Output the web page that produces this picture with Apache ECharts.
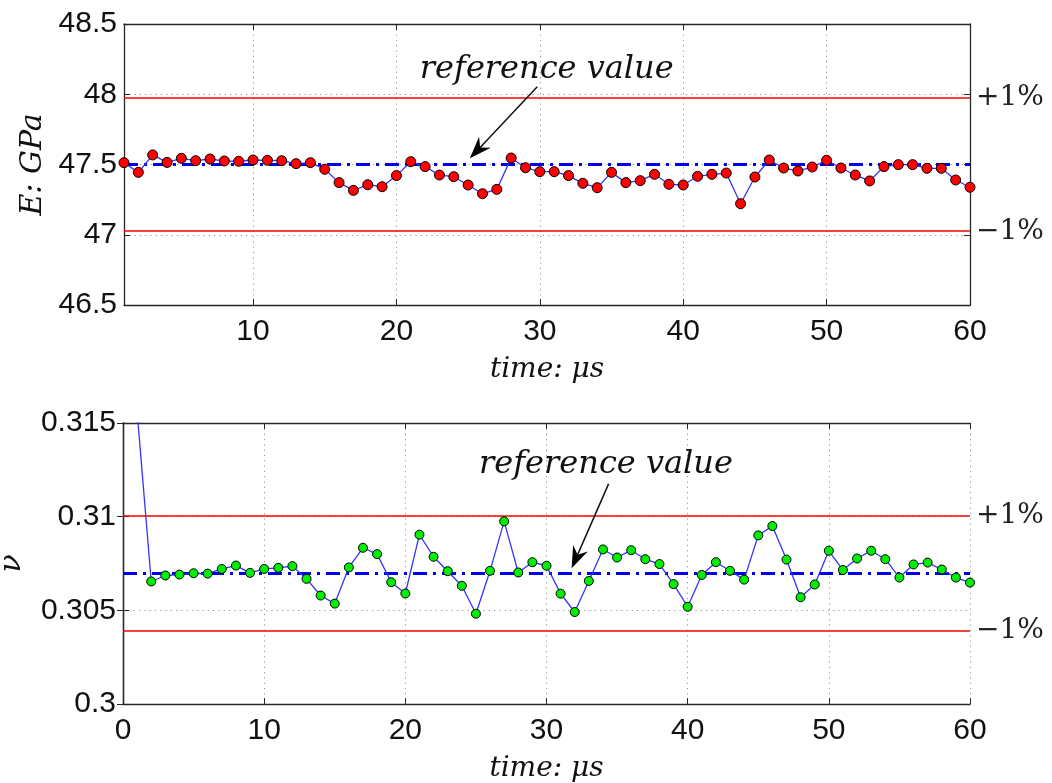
<!DOCTYPE html>
<html><head><meta charset="utf-8">
<script src="https://cdn.jsdelivr.net/npm/echarts@6/dist/echarts.min.js"></script>
<style>html,body{margin:0;padding:0;background:#fff}#c{width:1052px;height:783px}</style>
</head><body><div id="c"></div>
<script>
// ---------- data ----------
const timeSteps = [1,2,3,4,5,6,7,8,9,10,11,12,13,14,15,16,17,18,19,20,21,22,23,24,25,26,27,28,29,30,
  31,32,33,34,35,36,37,38,39,40,41,42,43,44,45,46,47,48,49,50,51,52,53,54,55,56,57,58,59,60];
const modulusE = [47.513,47.444,47.568,47.515,47.544,47.527,47.539,47.525,47.523,47.532,
  47.530,47.527,47.506,47.513,47.466,47.371,47.316,47.356,47.342,47.421,
  47.520,47.485,47.425,47.413,47.354,47.292,47.323,47.546,47.477,47.449,
  47.449,47.421,47.366,47.335,47.444,47.371,47.385,47.430,47.359,47.354,
  47.416,47.430,47.439,47.221,47.411,47.532,47.475,47.454,47.482,47.530,
  47.475,47.425,47.383,47.485,47.499,47.499,47.473,47.473,47.390,47.338];
const poissonNu = [0.3156,0.30654,0.30686,0.30691,0.30698,0.30696,0.30721,0.30739,0.30700,0.30721,
  0.30727,0.30736,0.30668,0.30579,0.30536,0.30729,0.30834,0.30800,0.30650,0.30590,
  0.30904,0.30786,0.30709,0.30631,0.30482,0.30711,0.30975,0.30702,0.30757,0.30738,
  0.30589,0.30491,0.30657,0.30825,0.30782,0.30821,0.30773,0.30747,0.30640,0.30519,
  0.30689,0.30757,0.30711,0.30664,0.30900,0.30950,0.30771,0.30570,0.30638,0.30818,
  0.30715,0.30777,0.30818,0.30773,0.30675,0.30745,0.30755,0.30718,0.30675,0.30648];
const refE = 47.5;
const refNu = 0.307;
const tolerance = 0.01;
const bandLabels = ['+1%', '\u22121%'];
const annotationText = 'reference value';
// annotation anchor points in data units: [text, arrow tail, arrow tip]
const annotTop = [[30.48, 48.173], [29.82, 48.054], [25.12, 47.544]];
const annotBottom = [[34.21, 0.31277], [34.40, 0.31175], [31.78, 0.30724]];

// ---------- styles ----------
const sansFont = 'Liberation Sans';
const serifFont = 'DejaVu Serif';
const axisColor = '#262626';
const tickFont = 30;

function refMarkLine(ref) {
  const red = {color: '#ff0000', width: 1.6, type: 'solid'};
  const lbl = (t) => ({show: true, position: 'end', formatter: t, distance: 6,
    fontFamily: serifFont, fontSize: 28, color: '#222'});
  return {
    symbol: 'none', silent: true, z: 1, animation: false, precision: 8,
    data: [
      {yAxis: ref * (1 + tolerance), lineStyle: red, label: lbl(bandLabels[0])},
      {yAxis: ref * (1 - tolerance), lineStyle: red, label: lbl(bandLabels[1])},
      {yAxis: ref, lineStyle: {color: '#0000ee', width: 3, type: [14, 6, 3, 6]}, label: {show: false}}
    ]
  };
}

function xAxisMain(grid, min, max, extra) {
  return Object.assign({
    gridIndex: grid, type: 'value', min: min, max: max, position: 'bottom',
    axisLine: {show: true, lineStyle: {color: axisColor, width: 1.3}},
    axisTick: {show: true, inside: true, length: 6, lineStyle: {color: axisColor}},
    axisLabel: {fontFamily: sansFont, fontSize: tickFont, color: '#111', margin: 12,
      formatter: v => (v % 10 === 0 ? String(v) : '')},
    splitLine: {show: true, lineStyle: {color: '#9a9a9a', width: 1, type: [1.3, 4]}},
    name: 'time: \u03bcs', nameLocation: 'middle', nameGap: 51,
    nameTextStyle: {fontFamily: serifFont, fontStyle: 'italic', fontSize: 28, color: '#111'}
  }, extra);
}
function xAxisTop(grid, min, max, extra) {
  return Object.assign({
    gridIndex: grid, type: 'value', min: min, max: max, position: 'top',
    axisLine: {show: true, lineStyle: {color: axisColor, width: 1.3}},
    axisTick: {show: true, inside: true, length: 6, lineStyle: {color: axisColor}},
    axisLabel: {show: false}, splitLine: {show: false}
  }, extra);
}
function yAxisMain(grid, min, max, interval, name, gap) {
  return {
    gridIndex: grid, type: 'value', min: min, max: max, interval: interval, position: 'left',
    axisLine: {show: true, lineStyle: {color: axisColor, width: 1.3}},
    axisTick: {show: true, inside: true, length: 6, lineStyle: {color: axisColor}},
    axisLabel: {fontFamily: sansFont, fontSize: tickFont, color: '#111', margin: 7},
    splitLine: {show: true, lineStyle: {color: '#9a9a9a', width: 1, type: [1.3, 4]}},
    name: name, nameLocation: 'middle', nameGap: gap, nameRotate: 90,
    nameTextStyle: {fontFamily: serifFont, fontStyle: 'italic', fontSize: 30, color: '#111'}
  };
}
function yAxisRight(grid, min, max, interval) {
  return {
    gridIndex: grid, type: 'value', min: min, max: max, interval: interval, position: 'right',
    axisLine: {show: true, lineStyle: {color: axisColor, width: 1.3}},
    axisTick: {show: true, inside: true, length: 6, lineStyle: {color: axisColor}},
    axisLabel: {show: false}, splitLine: {show: false}
  };
}

const chart = echarts.init(document.getElementById('c'), null, {renderer: 'canvas'});
const option = {
  animation: false,
  backgroundColor: '#ffffff',
  grid: [
    {left: 124, right: 82, top: 24, height: 281, containLabel: false, outerBoundsMode: 'none'},
    {left: 123, right: 82, top: 423, height: 281, containLabel: false, outerBoundsMode: 'none'}
  ],
  xAxis: [
    xAxisMain(0, 1, 60, {splitNumber: 6}),
    xAxisTop(0, 1, 60, {splitNumber: 6}),
    xAxisMain(1, 0, 60, {interval: 10}),
    xAxisTop(1, 0, 60, {interval: 10})
  ],
  yAxis: [
    yAxisMain(0, 46.5, 48.5, 0.5, 'E: GPa', 73),
    yAxisRight(0, 46.5, 48.5, 0.5),
    yAxisMain(1, 0.3, 0.315, 0.005, '\u03bd', 96),
    yAxisRight(1, 0.3, 0.315, 0.005)
  ],
  series: [
    {type: 'line', xAxisIndex: 0, yAxisIndex: 0, data: [], z: 1, markLine: refMarkLine(refE)},
    {type: 'line', xAxisIndex: 0, yAxisIndex: 0, z: 3, clip: true,
      data: timeSteps.map((t, i) => [t, modulusE[i]]),
      lineStyle: {color: '#3333ff', width: 1.3},
      symbol: 'circle', symbolSize: 10, showAllSymbol: true,
      itemStyle: {color: '#ff0000', borderColor: '#000', borderWidth: 1}},
    {type: 'line', xAxisIndex: 2, yAxisIndex: 2, data: [], z: 1, markLine: refMarkLine(refNu)},
    {type: 'line', xAxisIndex: 2, yAxisIndex: 2, z: 3, clip: true,
      data: timeSteps.map((t, i) => [t, poissonNu[i]]),
      lineStyle: {color: '#3333ff', width: 1.3},
      symbol: 'circle', symbolSize: 9, showAllSymbol: true,
      itemStyle: {color: '#00ee00', borderColor: '#000', borderWidth: 1}}
  ]
};
chart.setOption(option);

function annotation(seriesIndex, pts) {
  const t = chart.convertToPixel({seriesIndex: seriesIndex}, pts[0]);
  const a = chart.convertToPixel({seriesIndex: seriesIndex}, pts[1]);
  const b = chart.convertToPixel({seriesIndex: seriesIndex}, pts[2]);
  const dx = b[0] - a[0], dy = b[1] - a[1];
  const len = Math.sqrt(dx * dx + dy * dy);
  const ux = dx / len, uy = dy / len, nx = -uy, ny = ux;
  const L = 22, W = 8, notch = 15;
  const head = [
    [b[0], b[1]],
    [b[0] - ux * L + nx * W, b[1] - uy * L + ny * W],
    [b[0] - ux * notch, b[1] - uy * notch],
    [b[0] - ux * L - nx * W, b[1] - uy * L - ny * W]
  ];
  return [
    {type: 'text', x: t[0], y: t[1], z: 10, style: {text: annotationText, fontFamily: serifFont,
      fontStyle: 'italic', fontSize: 32, fill: '#111', align: 'center', verticalAlign: 'middle'}},
    {type: 'line', z: 10, shape: {x1: a[0], y1: a[1], x2: b[0] - ux * notch, y2: b[1] - uy * notch},
      style: {stroke: '#111', lineWidth: 1.5}},
    {type: 'polygon', z: 10, shape: {points: head}, style: {fill: '#000'}}
  ];
}
chart.setOption({graphic: annotation(1, annotTop).concat(annotation(3, annotBottom))});
</script>
</body></html>
